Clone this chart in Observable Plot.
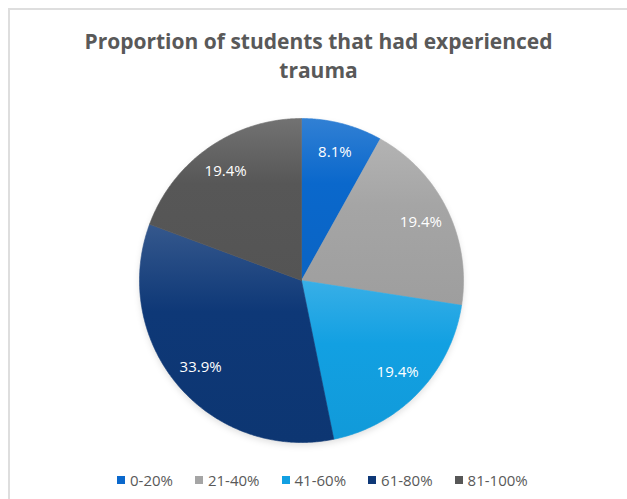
<!DOCTYPE html>
<html>
<head>
<meta charset="utf-8">
<script src="https://cdn.jsdelivr.net/npm/d3@7"></script>
<script src="https://cdn.jsdelivr.net/npm/@observablehq/plot@0.6"></script>
<style>
  html, body { margin: 0; padding: 0; background: #fff; }
  #wrap { position: relative; width: 627px; height: 499px; overflow: hidden; font-family: "Open Sans", sans-serif; }
  #frame { position: absolute; left: 8px; top: 8px; right: -4px; bottom: -4px; border-left: 2px solid #dedede; border-top: 2px solid #dedede; }
  #title { position: absolute; left: 10px; top: 27px; width: 617px; text-align: center; font-size: 21px; font-weight: 700; line-height: 29px; color: #595959; }
  #chart { position: absolute; left: 0; top: 100px; }
  #legend { position: absolute; left: 117px; top: 470px; height: 20px; display: flex; align-items: center; gap: 22px; font-size: 15px; color: #595959; line-height: 20px; }
  .item { display: flex; align-items: center; }
  .sw { width: 8px; height: 8px; margin-right: 5px; }
  .shadow { filter: blur(3px); }
</style>
</head>
<body>
<div id="wrap">
  <div id="frame"></div>
  <div id="title"></div>
  <div id="chart"></div>
  <div id="legend"></div>
</div>
<script>
// ---- data ----
const categories = ["0-20%", "21-40%", "41-60%", "61-80%", "81-100%"];
const values = [8.1, 19.4, 19.4, 33.9, 19.4];
const colors = ["#0a68cc", "#a5a5a5", "#12a0e2", "#0e3877", "#575757"];
const titleLines = ["Proportion of students that had experienced", "trauma"];

// ---- title ----
document.getElementById("title").innerHTML = titleLines.join("<br>");

// ---- pie geometry in unit space ----
const table = categories.map((category, i) => ({category, value: values[i], color: colors[i], i}));
const slices = d3.pie().sort(null).value(d => d.value)(table);

function slicePoints(a) {
  const pts = [{x: 0, y: 0}];
  const n = Math.max(16, Math.ceil((a.endAngle - a.startAngle) * 120));
  for (let k = 0; k <= n; k++) {
    const t = a.startAngle + (a.endAngle - a.startAngle) * k / n;
    pts.push({x: Math.sin(t), y: Math.cos(t)});
  }
  pts.push({x: 0, y: 0});
  return pts;
}

const labelR = 0.82;
const labels = slices.map(a => {
  const m = (a.startAngle + a.endAngle) / 2;
  return {x: labelR * Math.sin(m), y: labelR * Math.cos(m), text: a.data.value.toFixed(1) + "%"};
});

const allPts = slices.flatMap(a => slicePoints(a).map(p => ({...p, category: a.data.category})));

const W = 627, H = 360, cx = 301, cy = 180, R = 162;

const marks = [
  // soft shadow beneath the pie
  Plot.line(allPts.map(p => ({...p, y: p.y - 0.018})), {x: "x", y: "y", z: "category", fill: "#000", fillOpacity: 0.12, stroke: "none", className: "shadow"}),
  ...slices.map((a, i) =>
    Plot.line(slicePoints(a), {x: "x", y: "y", fill: `url(#grad${i})`, stroke: `url(#grad${i})`, strokeWidth: 0.6})
  ),
  Plot.text(labels, {x: "x", y: "y", text: "text", fill: "#fff", fontSize: 15, fontFamily: "Open Sans"})
];

const svg = Plot.plot({
  width: W,
  height: H,
  margin: 0,
  x: {domain: [-1, 1], range: [cx - R, cx + R], axis: null},
  y: {domain: [-1, 1], range: [cy + R, cy - R], axis: null},
  style: {background: "transparent", overflow: "visible"},
  marks
});

// gradients (lighter at top of each slice)
const defs = d3.select(svg).insert("defs", ":first-child");
colors.forEach((c, i) => {
  const g = defs.append("linearGradient").attr("id", `grad${i}`).attr("x1", 0).attr("y1", 0).attr("x2", 0).attr("y2", 1);
  g.append("stop").attr("offset", "0%").attr("stop-color", d3.interpolateRgb(c, "#fff")(0.16));
  g.append("stop").attr("offset", "40%").attr("stop-color", c);
  g.append("stop").attr("offset", "100%").attr("stop-color", d3.interpolateRgb(c, "#000")(0.04));
});

document.getElementById("chart").appendChild(svg);

// ---- legend ----
const legend = d3.select("#legend");
table.forEach(d => {
  const it = legend.append("div").attr("class", "item");
  it.append("div").attr("class", "sw").style("background", d.color);
  it.append("span").text(d.category);
});
</script>
</body>
</html>
